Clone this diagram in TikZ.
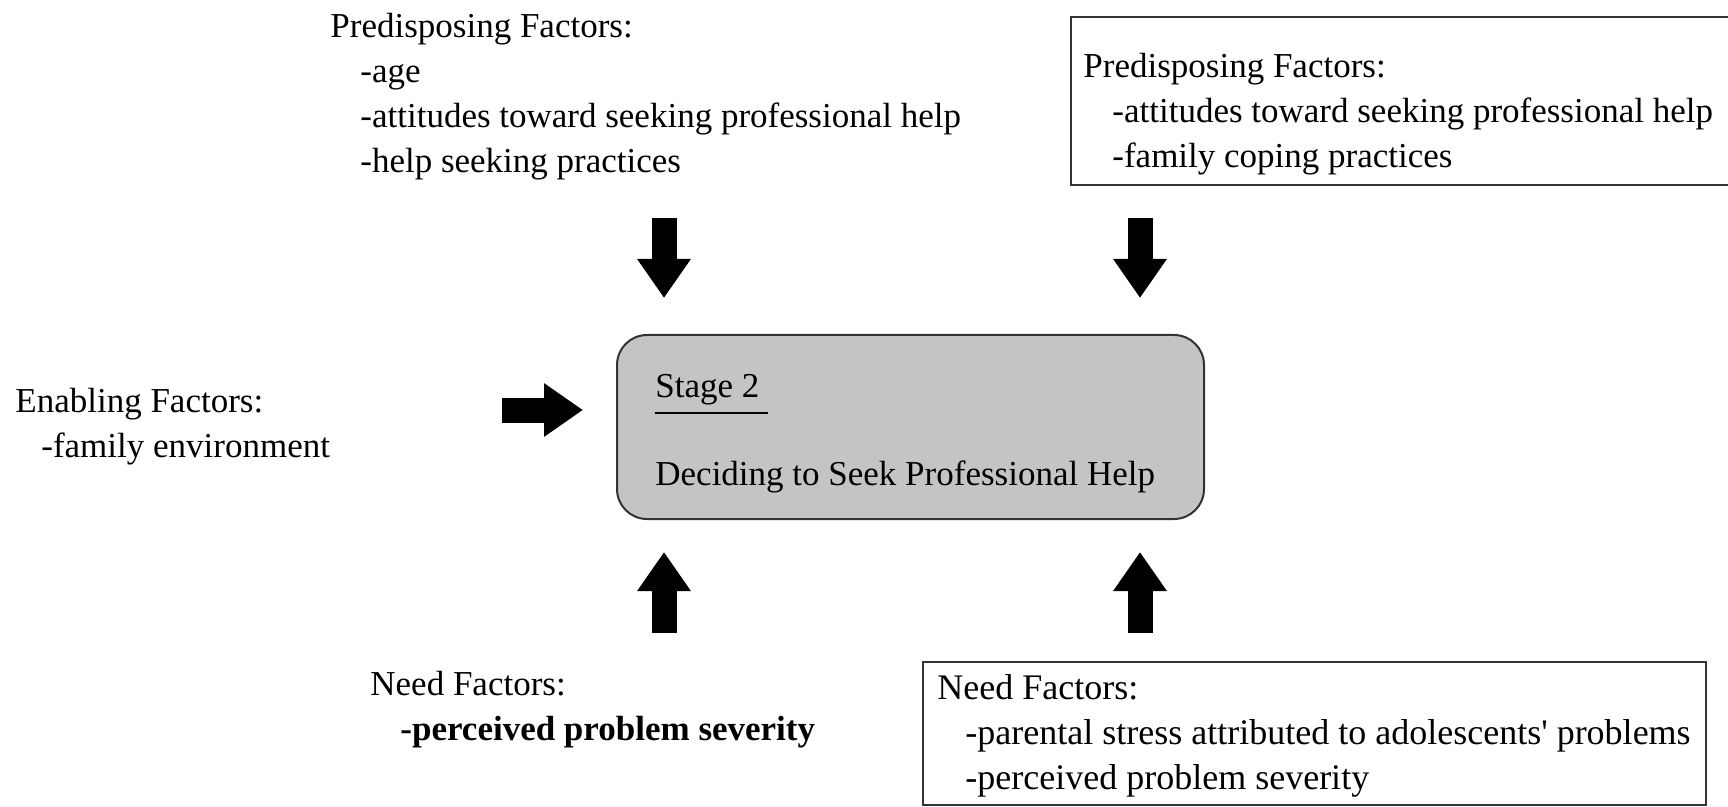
\documentclass[tikz,border=0pt]{standalone}
\usepackage{fontspec}
\setmainfont{Liberation Serif}
\usetikzlibrary{arrows.meta}

\tikzset{
  factor/.style={anchor=north west, inner sep=0pt, align=left, font=\fontsize{17.5pt}{22.5pt}\selectfont},
  stagetext/.style={anchor=base west, inner sep=0pt, font=\fontsize{17.5pt}{22.5pt}\selectfont},
  factbox/.style={draw=black!80, line width=1pt},
  stagebox/.style={draw=black!80, line width=1pt, fill=black!23, rounded corners=15pt, minimum width=293.5pt, minimum height=92pt, inner sep=0pt},
  blockarrow/.style={line width=12.5pt, -{Triangle[length=19.5pt, width=25.5pt]}}
}

\begin{document}
\begin{tikzpicture}[x=0.5pt,y=0.5pt,yscale=-1,xscale=1]
        \useasboundingbox (0,0) rectangle (1728,807);
        \clip (0,0) rectangle (1728,807);

        %Shape: Boxes (top right one runs off the page)
        \draw [factbox] (1760,17) -- (1071,17) -- (1071,185) -- (1760,185);
        \draw [factbox] (923,662) rectangle (1706,805);
        \node [stagebox] (stage) at (910.5,427) {};

        % Text Node
        \node [factor] (predL) at (330,13) {Predisposing Factors:\\\hspace*{15pt}-age\\\hspace*{15pt}-attitudes toward seeking professional help\\\hspace*{15pt}-help seeking practices};
        % Text Node
        \node [factor] (predR) at (1083,53) {Predisposing Factors:\\\hspace*{14.5pt}-attitudes toward seeking professional help\\\hspace*{14.5pt}-family coping practices};
        % Text Node
        \node [factor] (enab) at (15,388) {Enabling Factors:\\\hspace*{13pt}-family environment};
        % Text Node
        \node [factor] (needL) at (370,671) {Need Factors:\\\hspace*{15pt}\textbf{-perceived problem severity}};
        % Text Node
        \node [factor, font=\fontsize{18pt}{22.5pt}\selectfont] (needR) at (937,674) {Need Factors:\\\hspace*{14pt}-parental stress attributed to adolescents\textquotesingle\ problems\\\hspace*{14pt}-perceived problem severity};

        % Text Node
        \node [stagetext] (stg) at (655,397) {Stage 2};
        \draw [line width=1pt] ([yshift=8pt]stg.base west) -- ([yshift=8pt,xshift=4pt]stg.base east);
        % Text Node
        \node [stagetext] (dec) at (655,485) {Deciding to Seek Professional Help};

        %Block arrows
        \coordinate (pl1) at (664,218); \coordinate (pl2) at (664,298);
        \coordinate (pr1) at (1140,218); \coordinate (pr2) at (1140,298);
        \coordinate (en1) at (502,410); \coordinate (en2) at (583,410);
        \coordinate (nl1) at (664,633); \coordinate (nl2) at (664,552);
        \coordinate (nr1) at (1140,633); \coordinate (nr2) at (1140,552);
        \draw [blockarrow] (pl1) -- (pl2);
        \draw [blockarrow] (pr1) -- (pr2);
        \draw [blockarrow] (en1) -- (en2);
        \draw [blockarrow] (nl1) -- (nl2);
        \draw [blockarrow] (nr1) -- (nr2);

\end{tikzpicture}
\end{document}
